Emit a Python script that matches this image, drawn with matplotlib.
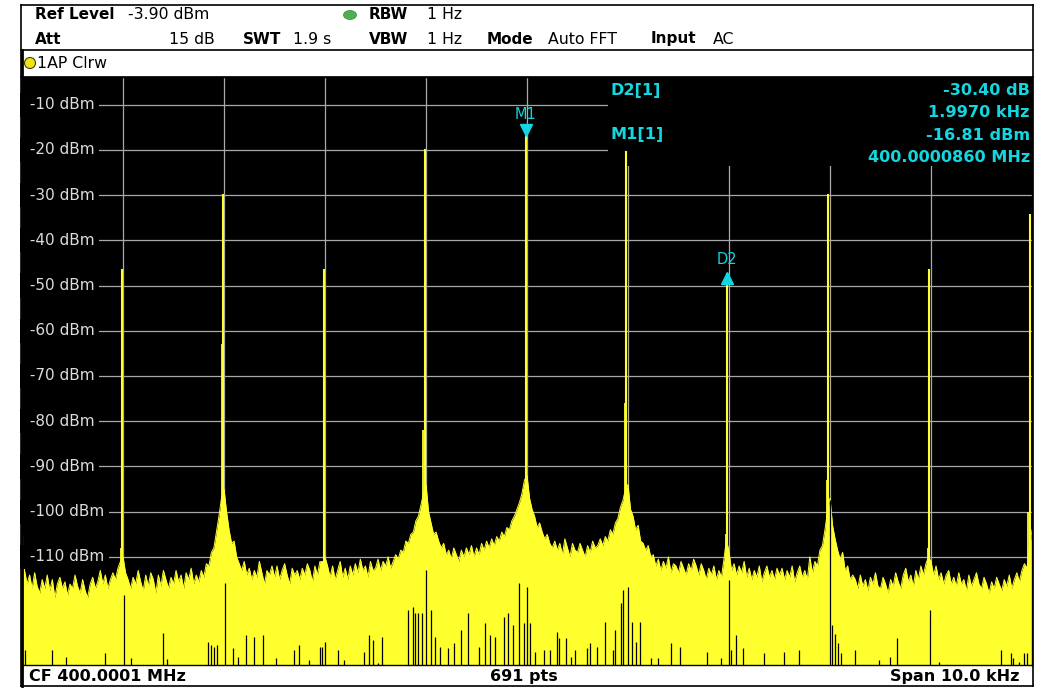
import numpy as np
import matplotlib
matplotlib.use('Agg')
import matplotlib.pyplot as plt
import matplotlib.transforms as mtransforms
from matplotlib.lines import Line2D
from matplotlib.patches import Rectangle, Ellipse

W, H = 1038, 688

# analyzer settings
cf_mhz = 400.0001
span_khz = 10.0
ref_level = -3.90
range_db = 130.0
n_pts = 691

# comb of tones, offset from CF in kHz
tone_khz = [-4.008, -3.010, -2.011, -1.013, -0.014, 0.985, 1.983, 2.982, 3.980, 4.979]
tone_dbm = [-46.4, -29.8, -46.4, -19.8, -16.81, -20.3, -47.21, -29.8, -46.4, -34.2]
# level of the trace point next to each tone
shoulder_dbm = [-108, -63, -111, -82, -95, -76, -105, -93, -108, -100]

# top of the noise floor, one value every 0.025 kHz starting at -5 kHz
floor_step_khz = 0.025
floor_dbm = [
    -102, -113, -116, -114, -117, -113.5, -116.5, -118, -115, -117,
    -114, -117.5, -115, -119, -116, -114.5, -117, -115.5, -118.5, -116,
    -117, -114, -116.5, -118, -115, -117.5, -119, -116, -114.5, -117,
    -115.5, -113, -116, -114, -117, -115, -113.5, -115, -112.5, -111,
    -110, -113.5, -115, -117, -114.5, -116, -113, -115.5, -117.5, -114,
    -116.5, -113.5, -115, -118, -114, -116.5, -113, -115, -117, -114.5,
    -116, -113, -115.5, -114, -117, -113.5, -115, -112.5, -116, -114,
    -115.5, -113, -114.5, -111.5, -112, -109, -108, -104.5, -101, -97,
    -95, -100, -104, -107, -106.5, -110, -111.5, -113, -111, -114,
    -112.5, -115, -113, -114.5, -111, -113.5, -116, -113, -114, -112,
    -114.5, -112, -115, -113, -111.5, -114, -116, -112.5, -114, -113,
    -115, -112.5, -114, -111.5, -113, -115.5, -112, -114, -111, -111.5,
    -110, -112, -114.5, -112, -115, -113, -111, -114.5, -112.5, -115,
    -112, -114, -111.5, -113.5, -110.5, -113, -112, -114.5, -111, -113,
    -112.5, -110.5, -113, -111, -112, -110, -112.5, -111, -109.5, -110.5,
    -108.5, -109, -106.5, -107, -105, -104.5, -102, -101, -98.5, -96,
    -94, -100, -102.5, -105, -104.5, -106.5, -108, -107, -109.5, -108.5,
    -110.5, -108, -109.5, -111, -108.5, -110, -108, -109.5, -107.5, -110,
    -108, -109.5, -107, -108.5, -106.5, -108, -106, -107.5, -105.5, -106.5,
    -104.5, -105.5, -103.5, -104, -102, -101, -99.5, -98, -96, -93,
    -92, -97, -99.5, -101, -103.5, -102.5, -104.5, -106, -105, -107,
    -108, -106.5, -108.5, -107, -109.5, -106, -108, -110, -107, -108.5,
    -109, -107, -108.5, -110, -107.5, -109, -106.5, -108, -107.5, -106,
    -107.5, -105.5, -106.5, -104, -105, -102.5, -101.5, -99, -97.5, -95,
    -94, -99.5, -101, -104, -103, -106.5, -107, -108.5, -107.5, -110,
    -109.5, -112, -110.5, -113, -111, -112.5, -110, -113.5, -111.5, -112,
    -113.5, -111, -112.5, -114, -111.5, -113, -110.5, -112, -114, -111.5,
    -113, -115, -112.5, -114, -112, -115, -113, -114.5, -110.5, -106,
    -109, -113, -111.5, -114, -112, -113.5, -111, -114.5, -112.5, -115,
    -113, -114.5, -112, -115.5, -113.5, -112, -114.5, -113, -115, -112.5,
    -114, -112.5, -115, -113, -114.5, -112, -115.5, -113.5, -112, -114.5,
    -113, -115, -110, -113.5, -111, -112, -108.5, -107.5, -104, -100,
    -97, -103, -106, -108.5, -110.5, -109, -113, -112, -115, -114,
    -115, -117, -114, -116.5, -115, -117.5, -114.5, -116, -113.5, -116.5,
    -117, -114.5, -116, -118, -115, -116.5, -113.5, -115.5, -117, -114,
    -112.5, -115.5, -114, -116.5, -113, -115, -112, -114, -111.5, -110,
    -111, -114, -112, -115, -113.5, -116, -114, -113, -116, -114.5,
    -116.5, -113.5, -116, -115, -117.5, -114, -116.5, -115, -113.5, -116,
    -117, -114.5, -116, -118, -115.5, -117, -114.5, -116, -117.5, -115,
    -116.5, -114, -117, -115, -113.5, -115.5, -113, -111.5, -112.5, -108,
    -104,
]

# places where the trace does not reach the bottom of the screen
gap_khz = [-4.97, -4.70, -4.56, -4.18, -3.993, -3.92, -3.60, -3.56, -3.16, -3.13,
           -3.10, -3.07, -2.995, -2.91, -2.86, -2.78, -2.70, -2.61, -2.49, -2.31,
           -2.26, -2.16, -2.05, -2.03, -1.996, -1.87, -1.81, -1.61, -1.56, -1.52,
           -1.48, -1.44, -1.18, -1.13, -1.11, -1.08, -1.04, -0.998, -0.95, -0.91,
           -0.86, -0.78, -0.72, -0.65, -0.58, -0.48, -0.42, -0.37, -0.32, -0.23,
           -0.19, -0.14, -0.08, -0.03, 0.001, 0.03, 0.08, 0.17, 0.23, 0.30,
           0.32, 0.39, 0.44, 0.48, 0.59, 0.62, 0.69, 0.77, 0.85, 0.87,
           0.93, 0.95, 1.000, 1.04, 1.08, 1.12, 1.23, 1.30, 1.43, 1.51,
           1.78, 1.92, 1.998, 2.02, 2.07, 2.14, 2.35, 2.54, 2.69, 2.997,
           3.02, 3.05, 3.08, 3.11, 3.25, 3.49, 3.59, 3.66, 3.995, 4.08,
           4.24, 4.69, 4.79, 4.81, 4.87, 4.92, 4.95]
gap_dbm = [-130.6, -130.6, -132.1, -131.3, -118.4, -132.4, -126.8, -132.6, -128.8, -129.5,
           -130.0, -129.5, -115.8, -130.1, -132.1, -127.3, -127.7, -127.3, -132.4, -130.6,
           -129.5, -132.8, -129.9, -129.9, -128.8, -130.6, -132.8, -131.0, -127.3, -128.4,
           -133.5, -127.7, -121.7, -121.1, -122.4, -122.4, -122.4, -112.9, -121.7, -127.7,
           -129.9, -130.1, -129.0, -126.2, -122.4, -129.9, -124.6, -127.3, -127.7, -123.3,
           -122.4, -125.1, -115.8, -124.6, -116.6, -124.6, -131.0, -130.6, -130.6, -126.6,
           -127.9, -127.9, -132.1, -130.6, -130.1, -129.0, -129.9, -124.4, -130.6, -126.2,
           -120.2, -117.3, -116.6, -124.4, -128.8, -124.4, -132.4, -132.4, -129.0, -129.9,
           -131.0, -132.4, -115.1, -130.6, -127.3, -130.1, -131.3, -131.0, -130.6, -97.4,
           -125.1, -127.0, -129.0, -131.3, -130.6, -132.8, -132.1, -127.9, -121.7, -133.3,
           -133.8, -130.6, -131.3, -132.4, -133.3, -131.3, -131.3]

grid_khz = [-4, -3, -2, -1, 0, 1, 2, 3, 4]
grid_dbm = [-10, -20, -30, -40, -50, -60, -70, -80, -90, -100, -110, -120, -130]
label_dbm = [-10, -20, -30, -40, -50, -60, -70, -80, -90, -100, -110]

m1_idx, d2_idx = 4, 6

TRACE = '#ffff2e'
CYAN = '#12d6e0'
GRID = '#a9a9a9'

fig = plt.figure(figsize=(W / 100, H / 100), dpi=100, facecolor='white')


def fx(px):
    return px / W


def fy(py):
    return 1 - py / H


def hline(y, x0, x1, lw=1.2):
    fig.add_artist(Line2D([fx(x0), fx(x1)], [fy(y), fy(y)], color='black', lw=lw,
                          transform=fig.transFigure))


def vline(x, y0, y1, lw=1.2):
    fig.add_artist(Line2D([fx(x), fx(x)], [fy(y0), fy(y1)], color='black', lw=lw,
                          transform=fig.transFigure))


def label(x, y, s, bold=False, ha='left', size=11.3, color='black'):
    # y is the text baseline in pixels from the top
    fig.text(fx(x), fy(y), s, ha=ha, va='baseline', fontsize=size, color=color,
             fontweight='bold' if bold else 'normal', family='DejaVu Sans', zorder=5)


# outer frame and header separators
hline(4.5, 20.5, 1032.5)
hline(686, 20.5, 1032.5)
hline(50, 20.5, 1032.5)
hline(76.5, 20.5, 1032.5)
vline(20.5, 4.5, 686)
vline(21.5, 50, 686, lw=2)
vline(1032.5, 4.5, 686)

# header rows
label(35, 19, 'Ref Level', bold=True, size=11)
label(128, 19, f'{ref_level:.2f} dBm')
fig.add_artist(Ellipse((fx(350), fy(15)), 13 / W, 9 / H, transform=fig.transFigure,
                       facecolor='#4cb050', edgecolor='#3a8a3e', lw=0.5))
label(369, 19, 'RBW', bold=True, size=11)
label(427, 19, '1 Hz')
label(35, 43.5, 'Att', bold=True, size=11)
label(215, 43.5, '15 dB', ha='right')
label(243, 43.5, 'SWT', bold=True, size=11)
label(293, 43.5, '1.9 s')
label(369, 43.5, 'VBW', bold=True, size=11)
label(427, 43.5, '1 Hz')
label(487, 43.5, 'Mode', bold=True, size=11)
label(548, 43.5, 'Auto FFT')
label(651, 43.5, 'Input', bold=True, size=11)
label(713, 43.5, 'AC')
fig.add_artist(Ellipse((fx(30), fy(63)), 11 / W, 11 / H, transform=fig.transFigure,
                       facecolor='#f2e21a', edgecolor='#404000', lw=0.8))
label(37, 68, '1AP Clrw')

# footer
label(29, 681, f'CF {cf_mhz:.4f} MHz', bold=True, size=11.5)
label(524, 681, f'{n_pts} pts', bold=True, ha='center', size=11.5)
label(1020, 681, f'Span {span_khz:.1f} kHz', bold=True, ha='right', size=11.5)

# trace window
ax = fig.add_axes([fx(22), fy(665), (1032 - 22) / W, (665 - 77) / H])
ax.set_facecolor('black')
ax.set_xlim(-span_khz / 2, span_khz / 2)
ybot = ref_level - range_db
ax.set_ylim(ybot, ref_level)
ax.set_xticks([])
ax.set_yticks([])
for sp in ax.spines.values():
    sp.set_color('black')
    sp.set_linewidth(1)

ax.vlines(grid_khz, ybot, ref_level, color=GRID, lw=0.9, zorder=1)
ax.hlines(grid_dbm, -span_khz / 2, span_khz / 2, color=GRID, lw=0.9, zorder=1)

# marker readout area hides the grid but not the trace
ax.add_patch(Rectangle((fx(608), fy(166)), fx(1033) - fx(608), fy(76) - fy(166),
                       transform=fig.transFigure, facecolor='black', edgecolor='none',
                       zorder=1.5))

floor_khz = -span_khz / 2 + floor_step_khz * np.arange(len(floor_dbm))
ax.fill_between(floor_khz, ybot - 10, floor_dbm, color=TRACE, lw=0, zorder=2)
ax.plot(floor_khz, floor_dbm, color=TRACE, lw=0.7, zorder=2)

tone_arr = np.array(tone_khz)
ax.vlines(tone_arr, -120, tone_dbm, color=TRACE, lw=1.5, zorder=3)
ax.vlines(tone_arr - 0.0145, -120, shoulder_dbm, color=TRACE, lw=1.3, zorder=3)
ax.vlines(gap_khz, ybot - 10, gap_dbm, color='black', lw=0.9, zorder=3)

ylab = mtransforms.blended_transform_factory(ax.transAxes, ax.transData)
for db in label_dbm:
    ax.text(0.003, db, f' {db} dBm', transform=ylab, ha='left', va='center',
            fontsize=11, color='#dcdcdc', zorder=4,
            bbox=dict(boxstyle='square,pad=0.3', facecolor='black', edgecolor='none'))

# markers
m1_f, m1_l = tone_khz[m1_idx], tone_dbm[m1_idx]
d2_f, d2_l = tone_khz[d2_idx], tone_dbm[d2_idx]
down = mtransforms.offset_copy(ax.transData, fig=fig, x=0, y=5, units='dots')
up = mtransforms.offset_copy(ax.transData, fig=fig, x=0, y=-5, units='dots')
ax.plot([m1_f], [m1_l], marker='v', ms=8, color=CYAN, mec=CYAN, transform=down, zorder=5)
ax.plot([d2_f], [d2_l], marker='^', ms=8, color=CYAN, mec=CYAN, transform=up, zorder=5)
ax.annotate('M1', (m1_f, m1_l), xytext=(0, 21), textcoords='offset pixels',
            ha='center', va='center', color=CYAN, fontsize=10.5, zorder=5)
ax.annotate('D2', (d2_f, d2_l), xytext=(0, 13), textcoords='offset pixels',
            ha='center', va='center', color=CYAN, fontsize=10.5, zorder=5)

delta_db = d2_l - m1_l
delta_khz = d2_f - m1_f
m1_mhz = cf_mhz + m1_f / 1000.0
label(611, 95, 'D2[1]', bold=True, size=11.6, color=CYAN)
label(1030, 95, f'{delta_db:.2f} dB', bold=True, ha='right', size=11.6, color=CYAN)
label(1030, 117, f'{delta_khz:.4f} kHz', bold=True, ha='right', size=11.6, color=CYAN)
label(611, 139.5, 'M1[1]', bold=True, size=11.6, color=CYAN)
label(1030, 139.5, f'{m1_l:.2f} dBm', bold=True, ha='right', size=11.6, color=CYAN)
label(1030, 161.5, f'{m1_mhz:.7f} MHz', bold=True, ha='right', size=11.6, color=CYAN)

fig.savefig('out.png', dpi=100, facecolor='white')
